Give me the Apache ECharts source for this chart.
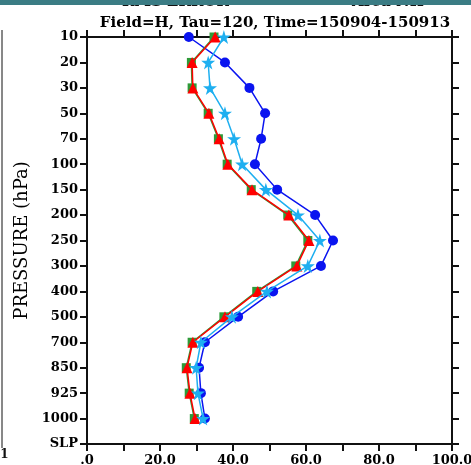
<!DOCTYPE html>
<html><head><meta charset="utf-8">
<script src="https://cdn.jsdelivr.net/npm/echarts@6/dist/echarts.min.js"></script>
<style>html,body{margin:0;padding:0;background:#fff}#c{width:471px;height:465px}</style>
</head><body><div id="c"></div>
<script>
const levels = ['10','20','30','50','70','100','150','200','250','300','400','500','700','850','925','1000','SLP'];
const blueVals  = [27.9,37.8,44.5,48.8,47.7,46.0,52.1,62.5,67.4,64.1,51.0,41.4,32.3,30.7,31.2,32.3];
const cyanVals  = [37.5,33.2,33.7,37.8,40.3,42.5,49.0,57.8,63.8,60.5,49.3,39.7,31.2,29.9,30.4,31.8];
const redVals   = [35.1,28.8,29.0,33.4,36.2,38.6,45.2,55.3,60.8,57.5,46.8,37.8,29.0,27.4,28.2,29.6];
const greenVals = [34.8,28.6,28.8,33.2,36.0,38.4,45.0,55.0,60.5,57.2,46.5,37.5,28.8,27.2,28.0,29.4];
const xTickLabels = {0:'.0',20:'20.0',40:'40.0',60:'60.0',80:'80.0',100:'100.0'};
const titleText = 'Field=H, Tau=120, Time=150904-150913';

const serif = '"DejaVu Serif","Liberation Serif",serif';
const star = 'path://M50,0 L61,35 L98,35 L68,57 L79,91 L50,70 L21,91 L32,57 L2,35 L39,35 Z';
const chart = echarts.init(document.getElementById('c'));
function mk(name, vals, color, symbol, size, z){
  return {name, type:'line', data: vals, xAxisIndex:0, yAxisIndex:0, symbol, symbolSize:size,
    itemStyle:{color}, lineStyle:{color, width:1.5}, z, animation:false};
}
const axLine = () => ({show:true, onZero:false, lineStyle:{color:'#111', width:2}});
const axTick = () => ({show:true, inside:false, length:7, lineStyle:{color:'#111', width:2}});
chart.setOption({
  animation:false,
  grid:{left:87, right:19, top:37, bottom:21, outerBoundsMode:'none'},
  title:{text:titleText, left:270, top:11, textAlign:'center',
    textStyle:{fontFamily:serif, fontSize:15, fontWeight:'bold', color:'#000'}},
  xAxis:[{type:'value', min:0, max:100, interval:10, position:'bottom',
      axisLine:axLine(), axisTick:axTick(), splitLine:{show:false},
      axisLabel:{margin:10, color:'#000', fontFamily:serif, fontWeight:'bold', fontSize:13,
        formatter:v=> (xTickLabels[v]!==undefined ? xTickLabels[v] : '')}},
    {type:'value', min:0, max:100, interval:10, position:'top',
      axisLine:axLine(), axisTick:axTick(), splitLine:{show:false}, axisLabel:{show:false}}],
  yAxis:[{type:'category', data:levels, inverse:true, boundaryGap:false, position:'left',
      name:'PRESSURE (hPa)', nameLocation:'middle', nameGap:46, nameRotate:90,
      nameTextStyle:{fontFamily:serif, fontSize:18, color:'#000'},
      axisLine:axLine(), axisTick:axTick(), splitLine:{show:false},
      axisLabel:{margin:9, color:'#000', fontFamily:serif, fontWeight:'bold', fontSize:13, interval:0}},
    {type:'category', data:levels, inverse:true, boundaryGap:false, position:'right',
      axisLine:axLine(), axisTick:axTick(), splitLine:{show:false}, axisLabel:{show:false}}],
  series:[
    {type:'line', data:[], xAxisIndex:1, yAxisIndex:1, silent:true},
    mk('blue', blueVals, '#0a14f0', 'circle', 10, 3),
    mk('green', greenVals, '#2e9a38', 'rect', 9, 4),
    mk('red', redVals, '#ff0000', 'triangle', 11, 5),
    mk('cyan', cyanVals, '#1eaff0', star, 14, 6)
  ],
  graphic:[
    {type:'text', x:122, y:-5, z:1, style:{text:'RMS ERROR', font:'bold 15px "DejaVu Serif", serif', fill:'#111'}},
    {type:'text', x:352, y:-5, z:1, style:{text:'Area NH', font:'bold 15px "DejaVu Serif", serif', fill:'#111'}},
    {type:'rect', z:10, shape:{x:0, y:0, width:471, height:5}, style:{fill:'#3b7c84'}},
    {type:'line', shape:{x1:2, y1:30, x2:2, y2:448}, style:{stroke:'#111', lineWidth:1}},
    {type:'text', x:-4, y:449, style:{text:'.1', font:'bold 12px "DejaVu Serif", serif', fill:'#111'}}
  ]
});
</script></body></html>
